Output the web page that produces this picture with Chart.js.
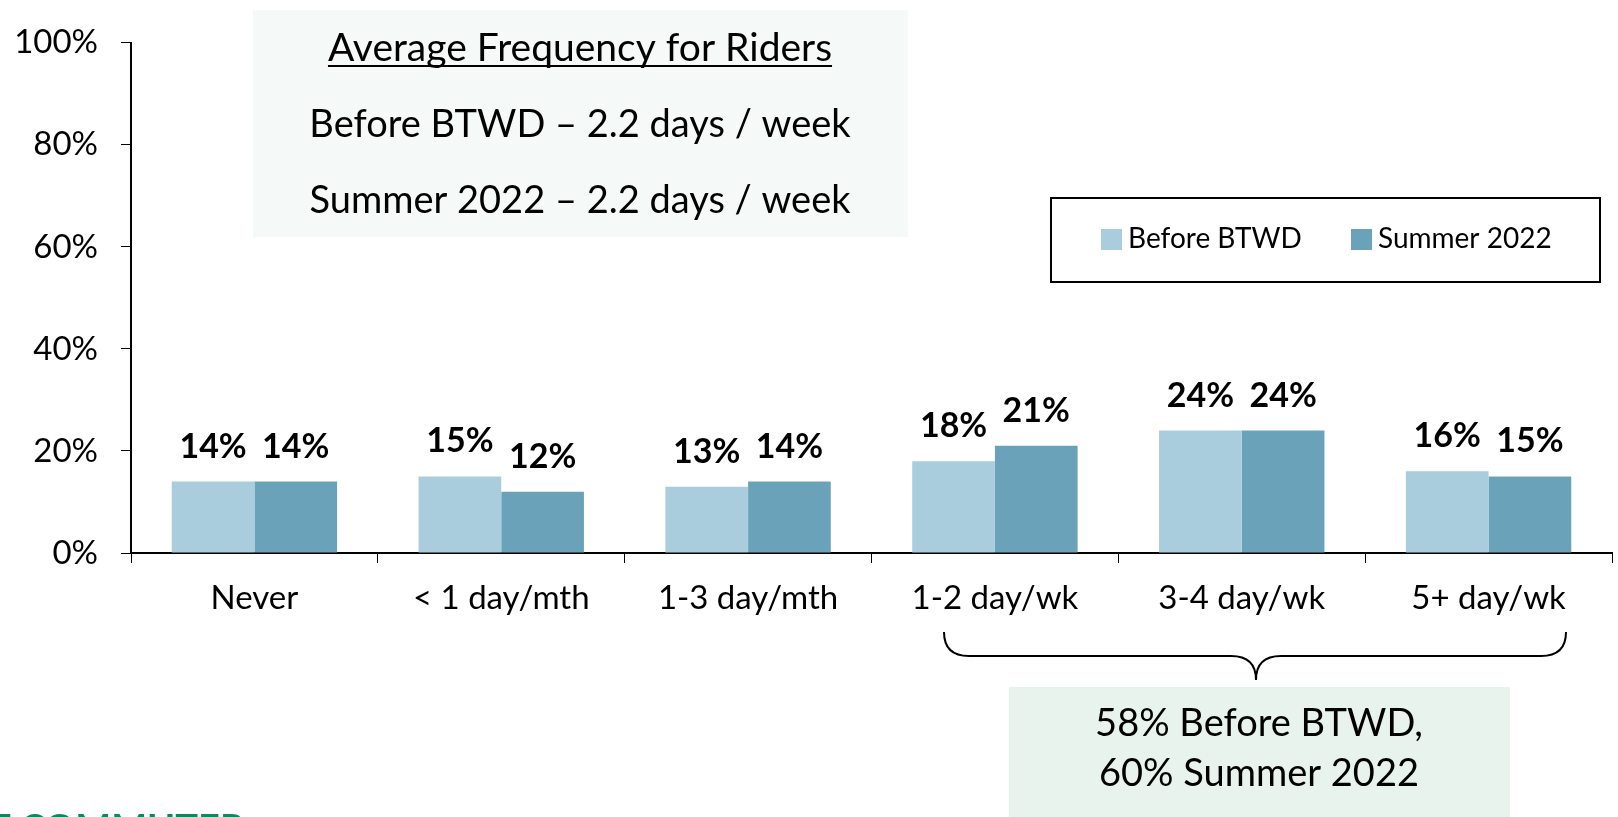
<!DOCTYPE html>
<html>
<head>
<meta charset="utf-8">
<script src="https://cdn.jsdelivr.net/npm/chart.js@4"></script>
<style>
  html, body { margin: 0; padding: 0; background: #fff; overflow: hidden; }
</style>
</head>
<body>
<canvas id="chart" width="1618" height="817"></canvas>
<script>
// ── Data ────────────────────────────────────────────────
const categories  = ['Never', '< 1 day/mth', '1-3 day/mth', '1-2 day/wk', '3-4 day/wk', '5+ day/wk'];
const beforeBTWD  = [14, 15, 13, 18, 24, 16];
const summer2022  = [14, 12, 14, 21, 24, 15];
const seriesNames = ['Before BTWD', 'Summer 2022'];
const yTickValues = [0, 20, 40, 60, 80, 100];
const infoLines   = ['Average Frequency for Riders', 'Before BTWD – 2.2 days / week', 'Summer 2022 – 2.2 days / week'];
const braceLines  = ['58% Before BTWD,', '60% Summer 2022'];

const LIGHT = '#a9cddd';
const DARK  = '#6aa3b9';
const FONT  = 'Lato, "Open Sans", sans-serif';

// ── Value labels above bars ─────────────────────────────
const valueLabels = {
  id: 'valueLabels',
  afterDatasetsDraw(chart) {
    const ctx = chart.ctx;
    ctx.save();
    ctx.font = `bold 34px ${FONT}`;
    ctx.fillStyle = '#000';
    ctx.textAlign = 'center';
    ctx.textBaseline = 'middle';
    chart.data.datasets.forEach((ds, i) => {
      chart.getDatasetMeta(i).data.forEach((bar, j) => {
        ctx.fillText(ds.data[j] + '%', bar.x, bar.y - 35);
      });
    });
    ctx.restore();
  }
};

// ── Annotations: info box, legend, brace, note ─────────
const extras = {
  id: 'extras',
  afterDraw(chart) {
    const ctx = chart.ctx;
    ctx.save();

    // info box
    ctx.fillStyle = '#f5f9f8';
    ctx.fillRect(253, 10, 655, 227);
    ctx.fillStyle = '#000';
    ctx.textAlign = 'center';
    ctx.textBaseline = 'middle';
    ctx.font = `39px ${FONT}`;
    ctx.fillText(infoLines[0], 580, 48);
    const w = ctx.measureText(infoLines[0]).width;
    ctx.fillRect(580 - w / 2, 65, w, 2);
    ctx.font = `38px ${FONT}`;
    ctx.fillText(infoLines[1], 580, 125);
    ctx.fillText(infoLines[2], 580, 201);

    // legend
    ctx.strokeStyle = '#000';
    ctx.lineWidth = 2;
    ctx.strokeRect(1051, 198, 549, 84);
    ctx.font = `28px ${FONT}`;
    ctx.textAlign = 'left';
    const lx = [1101, 1351];
    chart.data.datasets.forEach((ds, i) => {
      ctx.fillStyle = ds.backgroundColor;
      ctx.fillRect(lx[i], 229, 21, 21);
      ctx.fillStyle = '#000';
      ctx.fillText(ds.label, lx[i] + 27, 239);
    });

    // brace over the weekly categories
    ctx.beginPath();
    ctx.lineWidth = 2;
    ctx.moveTo(944, 632);
    ctx.quadraticCurveTo(944, 656, 969, 656);
    ctx.lineTo(1231, 656);
    ctx.quadraticCurveTo(1256, 656, 1256, 680);
    ctx.quadraticCurveTo(1256, 656, 1281, 656);
    ctx.lineTo(1541, 656);
    ctx.quadraticCurveTo(1566, 656, 1566, 632);
    ctx.stroke();

    // note box
    ctx.fillStyle = '#e8f3ee';
    ctx.fillRect(1009, 687, 501, 130);
    ctx.fillStyle = '#000';
    ctx.textAlign = 'center';
    ctx.font = `38px ${FONT}`;
    ctx.fillText(braceLines[0], 1259, 724);
    ctx.fillText(braceLines[1], 1259, 774);

    // cut-off logo text
    ctx.fillStyle = '#0b8b5b';
    ctx.font = `bold 38px ${FONT}`;
    ctx.textAlign = 'left';
    ctx.textBaseline = 'top';
    ctx.fillText('T COMMUTER', -12, 811);

    ctx.restore();
  }
};

new Chart(document.getElementById('chart'), {
  type: 'bar',
  data: {
    labels: categories,
    datasets: [
      { label: seriesNames[0], data: beforeBTWD, backgroundColor: LIGHT },
      { label: seriesNames[1], data: summer2022, backgroundColor: DARK }
    ]
  },
  options: {
    responsive: false,
    animation: false,
    layout: { padding: { top: 42, right: 6, left: 0, bottom: 0 } },
    datasets: { bar: { categoryPercentage: 0.67, barPercentage: 1.0 } },
    plugins: { legend: { display: false }, tooltip: { enabled: false } },
    scales: {
      x: {
        afterFit: s => { s.height = 264; },
        grid: { offset: true, drawOnChartArea: false, color: '#000', tickLength: 10, lineWidth: 1 },
        border: { color: '#000', width: 2 },
        ticks: { color: '#000', padding: 16, maxRotation: 0, autoSkip: false, font: { family: FONT, size: 33 } }
      },
      y: {
        min: 0,
        max: 100,
        afterFit: s => { s.width = 131; },
        afterBuildTicks: s => { s.ticks = yTickValues.map(v => ({ value: v })); },
        grid: { drawOnChartArea: false, color: '#000', tickLength: 10, lineWidth: 1 },
        border: { color: '#000', width: 2 },
        ticks: { color: '#000', padding: 23, font: { family: FONT, size: 33 }, callback: v => v + '%' }
      }
    }
  },
  plugins: [valueLabels, extras]
});
</script>
</body>
</html>
